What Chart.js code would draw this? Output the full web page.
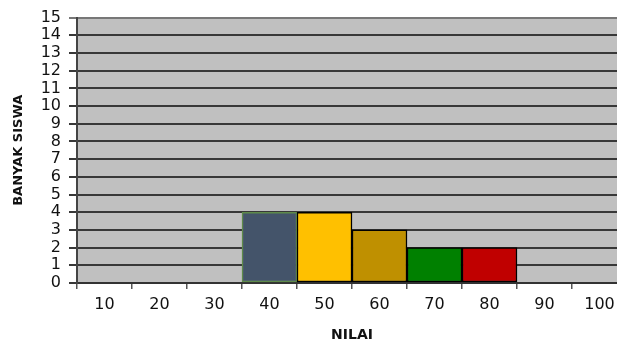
<!DOCTYPE html>
<html>
<head>
<meta charset="utf-8">
<script src="https://cdn.jsdelivr.net/npm/chart.js@4/dist/chart.umd.min.js"></script>
<style>
  html, body { margin: 0; padding: 0; background: #fff; overflow: hidden; }
  #wrap { width: 640px; height: 344px; }
</style>
</head>
<body>
<div id="wrap"><canvas id="c" width="640" height="344"></canvas></div>
<script>
// Score classes and number of students in each class
const nilai = ['10', '20', '30', '40', '50', '60', '70', '80', '90', '100'];
const banyakSiswa = [0, 0, 0, 4, 4, 3, 2, 2, 0, 0];
const yTicks = [0, 1, 2, 3, 4, 5, 6, 7, 8, 9, 10, 11, 12, 13, 14, 15];

const fillColors = ['#44546A', '#44546A', '#44546A', '#44546A', '#FFC000', '#BF9000', '#008000', '#C00000', '#44546A', '#44546A'];
const edgeColors = ['#000', '#000', '#000', '#5E8A4A', '#000', '#000', '#000', '#000', '#000', '#000'];

const FONT = 'DejaVu Sans, Verdana, sans-serif';

const plotBackground = {
  id: 'plotBackground',
  beforeDraw(chart) {
    const { ctx, chartArea: a } = chart;
    ctx.save();
    ctx.fillStyle = '#C0C0C0';
    ctx.fillRect(a.left, a.top, a.right - a.left, a.bottom - a.top);
    ctx.restore();
  }
};

new Chart(document.getElementById('c'), {
  type: 'bar',
  data: {
    labels: nilai,
    datasets: [{
      data: banyakSiswa,
      backgroundColor: fillColors,
      borderColor: edgeColors,
      borderWidth: 1.5,
      borderSkipped: false,
      categoryPercentage: 1,
      barPercentage: 1
    }]
  },
  options: {
    responsive: false,
    animation: false,
    layout: { padding: { top: 16, right: 13, left: 0, bottom: 0 } },
    plugins: { legend: { display: false }, tooltip: { enabled: false } },
    scales: {
      x: {
        type: 'category',
        afterFit(scale) { scale.height = 61; },
        grid: {
          offset: true,
          drawOnChartArea: false,
          drawTicks: true,
          tickLength: 6,
          color: '#555',
          lineWidth: 1.5
        },
        border: { display: true, color: '#333', width: 2 },
        ticks: {
          color: '#111',
          padding: 6,
          autoSkip: false,
          maxRotation: 0,
          font: { family: FONT, size: 16 }
        },
        title: {
          display: true,
          text: 'NILAI',
          color: '#111',
          padding: { top: 0, bottom: 0 },
          font: { family: FONT, size: 14, weight: 'bold' }
        }
      },
      y: {
        min: 0,
        max: 15,
        afterFit(scale) { scale.width = 77; },
        afterBuildTicks(scale) { scale.ticks = yTicks.map(v => ({ value: v })); },
        grid: {
          color: ctx => (ctx.tick && ctx.tick.value === 15) ? '#777' : '#383838',
          lineWidth: 2,
          tickLength: 8
        },
        border: { display: true, color: '#444', width: 2 },
        ticks: {
          color: '#111',
          padding: 8,
          autoSkip: false,
          font: { family: FONT, size: 16 }
        },
        title: {
          display: true,
          text: 'BANYAK SISWA',
          color: '#111',
          padding: { top: 11, bottom: 0 },
          font: { family: FONT, size: 13, weight: 'bold' }
        }
      }
    }
  },
  plugins: [plotBackground]
});
</script>
</body>
</html>
